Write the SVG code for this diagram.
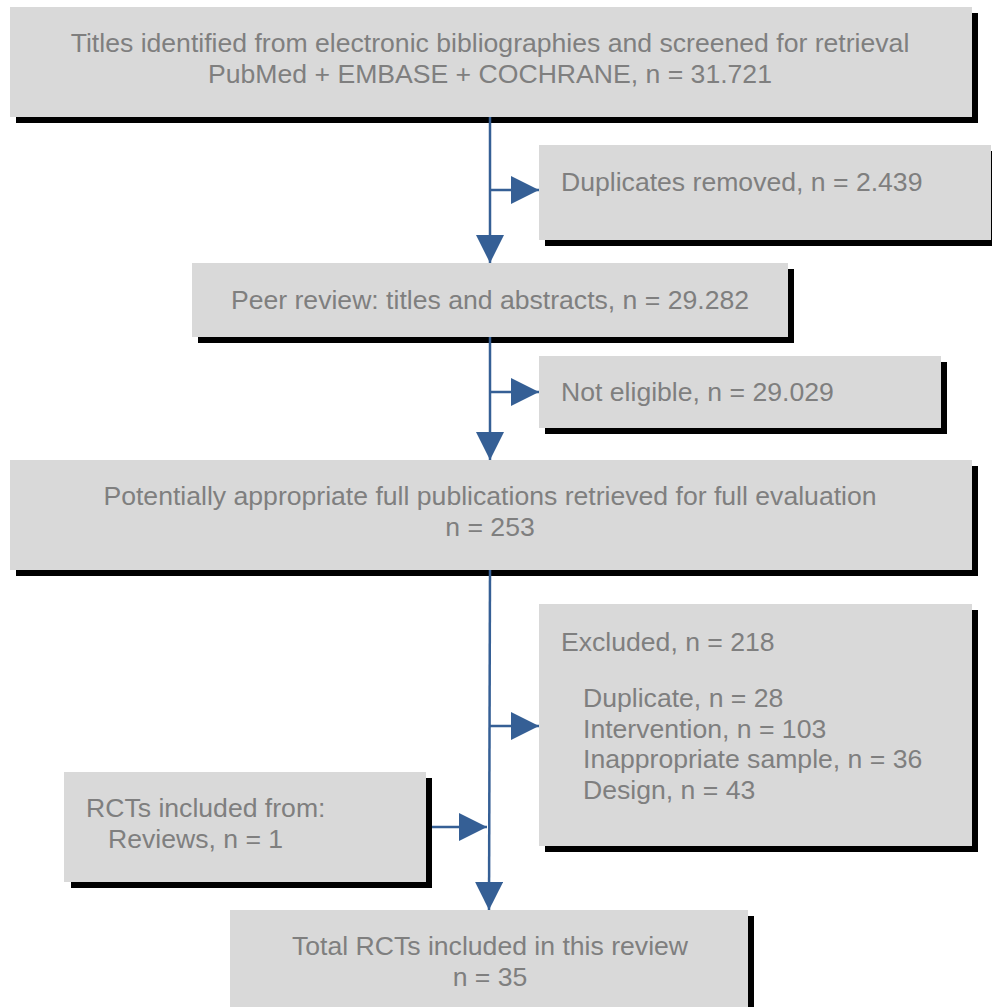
<svg xmlns="http://www.w3.org/2000/svg" width="992" height="1007" viewBox="0 0 992 1007">
<defs>
<style>
.box{fill:#d9d9d9;}
.sh{fill:#000;}
.t{font-family:"Liberation Sans",Arial,sans-serif;font-size:26.6px;fill:#7f7f7f;}
.c{text-anchor:middle;}
.ln{stroke:#355f95;stroke-width:2.5;fill:none;}
.ah{fill:#355f95;}
</style>
<marker id="arr" markerUnits="userSpaceOnUse" markerWidth="28" markerHeight="28" viewBox="0 0 26 26" refX="26" refY="13" orient="auto">
<path d="M0,0 L26,13 L0,26 Z" class="ah"/>
</marker>
</defs>
<rect width="992" height="1007" fill="#fff"/>
<g id="n1">
<rect class="sh" x="16" y="13" width="962" height="110"/>
<rect class="box" x="10" y="7" width="962" height="110"/>
<text class="t c" x="490" y="52">Titles identified from electronic bibliographies and screened for retrieval</text>
<text class="t c" x="490" y="83">PubMed + EMBASE + COCHRANE, n = 31.721</text>
</g>
<g id="n2">
<rect class="sh" x="545" y="151" width="452" height="95"/>
<rect class="box" x="539" y="145" width="452" height="95"/>
<text class="t" x="561" y="191">Duplicates removed, n = 2.439</text>
</g>
<g id="n3">
<rect class="sh" x="198" y="269" width="596" height="74"/>
<rect class="box" x="192" y="263" width="596" height="74"/>
<text class="t c" x="490" y="309">Peer review: titles and abstracts, n = 29.282</text>
</g>
<g id="n4">
<rect class="sh" x="545" y="362" width="402" height="72"/>
<rect class="box" x="539" y="356" width="402" height="72"/>
<text class="t" x="561" y="401">Not eligible, n = 29.029</text>
</g>
<g id="n5">
<rect class="sh" x="16" y="466" width="962" height="110"/>
<rect class="box" x="10" y="460" width="962" height="110"/>
<text class="t c" x="490" y="505">Potentially appropriate full publications retrieved for full evaluation</text>
<text class="t c" x="490" y="536">n = 253</text>
</g>
<g id="n6">
<rect class="sh" x="545" y="610" width="433" height="242"/>
<rect class="box" x="539" y="604" width="433" height="242"/>
<text class="t" x="561" y="651">Excluded, n = 218</text>
<text class="t" x="583" y="707">Duplicate, n = 28</text>
<text class="t" x="583" y="738">Intervention, n = 103</text>
<text class="t" x="583" y="768">Inappropriate sample, n = 36</text>
<text class="t" x="583" y="799">Design, n = 43</text>
</g>
<g id="n7">
<rect class="sh" x="71" y="778" width="361" height="110"/>
<rect class="box" x="64" y="772" width="362" height="110"/>
<text class="t" x="86" y="817">RCTs included from:</text>
<text class="t" x="108" y="848">Reviews, n = 1</text>
</g>
<g id="n8">
<rect class="sh" x="236" y="916" width="518" height="100"/>
<rect class="box" x="230" y="910" width="518" height="100"/>
<text class="t c" x="490" y="955">Total RCTs included in this review</text>
<text class="t c" x="490" y="986">n = 35</text>
</g>
<g id="connectors">
<line class="ln" x1="490" y1="117" x2="490" y2="263" marker-end="url(#arr)"/>
<line class="ln" x1="490" y1="190" x2="539" y2="190" marker-end="url(#arr)"/>
<line class="ln" x1="490" y1="337" x2="490" y2="460" marker-end="url(#arr)"/>
<line class="ln" x1="490" y1="392" x2="539" y2="392" marker-end="url(#arr)"/>
<line class="ln" x1="490" y1="570" x2="489" y2="910" marker-end="url(#arr)"/>
<line class="ln" x1="490" y1="726" x2="539" y2="726" marker-end="url(#arr)"/>
<line class="ln" x1="432" y1="827" x2="487" y2="827" marker-end="url(#arr)"/>
</g>
</svg>
